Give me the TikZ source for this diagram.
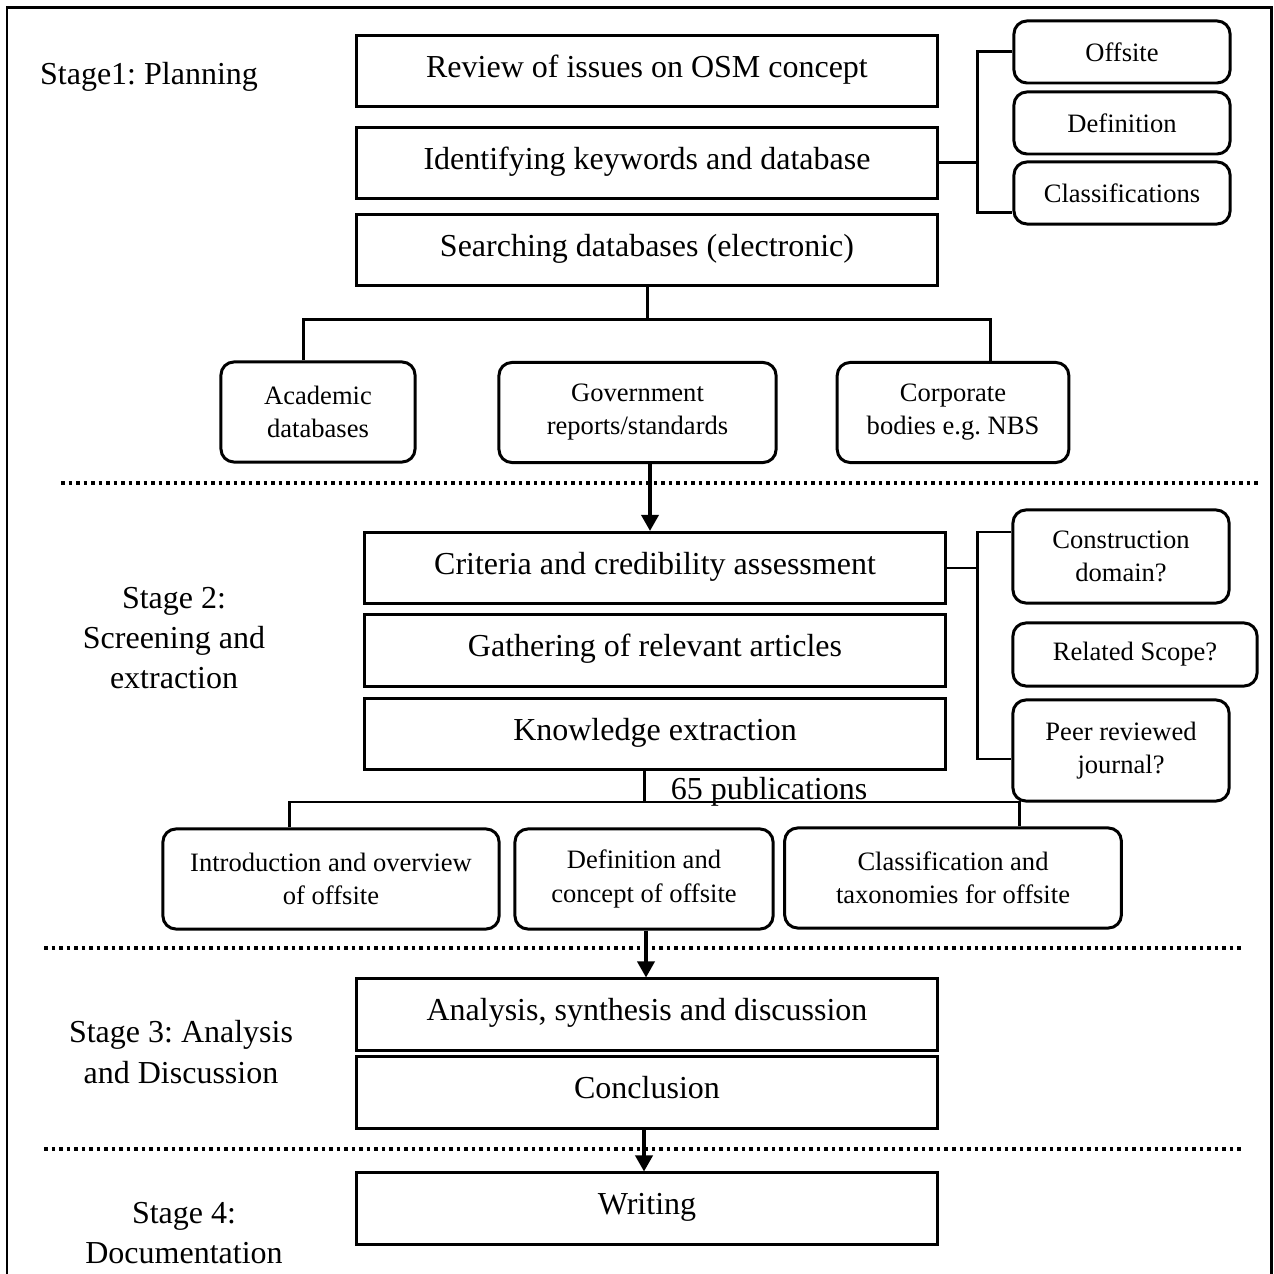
\documentclass[tikz,border=0pt]{standalone}
\usepackage{fontspec}
\setmainfont{Liberation Serif}
\usetikzlibrary{arrows.meta}
\frenchspacing
\begin{document}
\begin{tikzpicture}[x=0.01cm,y=-0.01cm,
  bigbox/.style={draw, line width=0.85pt, minimum width=5.8cm, minimum height=0.71cm, inner sep=0pt,
    font=\fontsize{9.1}{11.4}\selectfont, text height=0.75em, text depth=0.4em},
  rbox/.style={draw, line width=0.85pt, rounded corners=0.13cm, inner sep=0pt, align=center,
    font=\fontsize{7.55}{9.4}\selectfont},
  conn/.style={line width=0.85pt},
  arr/.style={line width=1pt, -{Triangle[width=0.17cm,length=0.16cm]}},
  sep/.style={line width=1.05pt, dash pattern=on 0.035cm off 0.04cm},
  lbl/.style={align=center, font=\fontsize{9.1}{11.4}\selectfont, inner sep=0pt}]
\useasboundingbox (0,0) rectangle (1274,1274);
% frame
\draw[line width=0.85pt] (7,1274) -- (7,8) -- (1271,8) -- (1271,1274);
% stage labels
\node[lbl] (s1) at (149,77) {Stage1: Planning};
\node[lbl] (s2) at (174,638) {Stage 2:\\Screening and\\extraction};
\node[lbl] (s3) at (181,1052) {Stage 3: Analysis\\and Discussion};
\node[lbl] (s4) at (184,1233) {Stage 4:\\Documentation};
% stage 1
\node[bigbox] (rev) at (647,71) {Review of issues on OSM concept};
\node[bigbox] (ident) at (647,163) {Identifying keywords and database};
\node[bigbox] (search) at (647,250) {Searching databases (electronic)};
\node[rbox, minimum width=2.16cm, minimum height=0.62cm] (off) at (1122,52) {Offsite};
\node[rbox, minimum width=2.16cm, minimum height=0.62cm] (defn) at (1122,123) {Definition};
\node[rbox, minimum width=2.16cm, minimum height=0.62cm] (cls) at (1122,193) {Classifications};
\node[rbox, minimum width=1.94cm, minimum height=1.0cm] (acad) at (318,412) {Academic\\databases};
\node[rbox, minimum width=2.77cm, minimum height=1.0cm] (gov) at (637.5,412.5) {Government\\reports/standards};
\node[rbox, minimum width=2.315cm, minimum height=1.0cm] (corp) at (953,412.5) {Corporate\\bodies e.g. NBS};
% stage 2
\node[bigbox] (crit) at (655,568) {Criteria and credibility assessment};
\node[bigbox] (gath) at (655,650.5) {Gathering of relevant articles};
\node[bigbox] (know) at (655,734) {Knowledge extraction};
\node[rbox, minimum width=2.16cm, minimum height=0.93cm] (cons) at (1121,556.5) {Construction\\domain?};
\node[rbox, minimum width=2.44cm, minimum height=0.63cm] (scope) at (1135,654.5) {Related Scope?};
\node[rbox, minimum width=2.16cm, minimum height=1.01cm] (peer) at (1121,750.5) {Peer reviewed\\journal?};
\node[rbox, minimum width=3.36cm, minimum height=1.0cm] (intro) at (331,879) {Introduction and overview\\of offsite};
\node[rbox, minimum width=2.58cm, minimum height=1.0cm] (defc) at (644,879) {Definition and\\concept of offsite};
\node[rbox, minimum width=3.365cm, minimum height=1.0cm] (clas) at (953,878) {Classification and\\taxonomies for offsite};
\node[lbl] (pubs) at (769,792) {65 publications};
% stage 3 and 4
\node[bigbox] (anal) at (647,1014.5) {Analysis, synthesis and discussion};
\node[bigbox] (conc) at (647,1092.5) {Conclusion};
\node[bigbox] (writ) at (647,1208.5) {Writing};
% separators
\draw[sep] (61,483) -- (1259,483);
\draw[sep] (44,948) -- (1241,948);
\draw[sep] (44,1149) -- (1241,1149);
% connectors stage 1
\coordinate (bx) at (977,0);
\coordinate (c1) at (977,213);
\draw[conn] (ident.east) -- (ident.east -| bx);
\draw[conn] (off.west) -| (c1) -- (c1 -| cls.west);
\coordinate (h1L) at (303,320);
\coordinate (h1R) at (990,320);
\draw[conn] (search.south) -- (search.south |- h1L);
\draw[conn] (acad.north -| h1L) -- (h1L) -- (h1R) -- (h1R |- corp.north);
\coordinate (a1) at (650,0);
\draw[arr] (gov.south -| a1) -- (crit.north -| a1);
% connectors stage 2
\coordinate (c2t) at (977,532);
\coordinate (c2b) at (977,759);
\draw[conn] (crit.east) -- (crit.east -| bx);
\draw[conn] (c2t -| cons.west) -- (c2t) -- (c2b) -- (c2b -| peer.west);
\coordinate (k) at (644,802);
\coordinate (hL) at (289,802);
\coordinate (hR) at (1019,802);
\draw[conn] (know.south -| k) -- (k);
\draw[conn] (intro.north -| hL) -- (hL) -- (hR) -- (hR |- clas.north);
\coordinate (a2) at (646,0);
\draw[arr] (defc.south -| a2) -- (anal.north -| a2);
\coordinate (a3) at (644,0);
\draw[arr] (conc.south -| a3) -- (writ.north -| a3);
\end{tikzpicture}
\end{document}
